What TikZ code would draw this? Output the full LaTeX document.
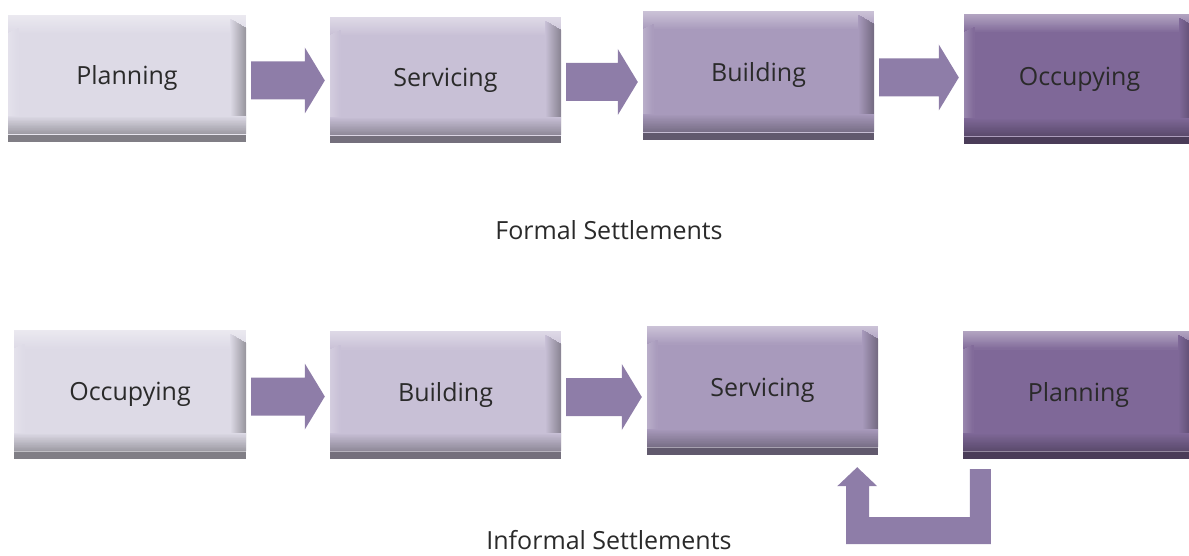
\documentclass[tikz,border=0pt]{standalone}
\usepackage{fontspec}
\setmainfont{Open Sans}
\usetikzlibrary{calc}
\definecolor{c1}{HTML}{DDDAE6}
\definecolor{c2}{HTML}{C8C0D6}
\definecolor{c3}{HTML}{A89ABC}
\definecolor{c4}{HTML}{7F6898}
\definecolor{arrowc}{HTML}{8E7DA8}
\definecolor{txt}{HTML}{2A2A2A}
\tikzset{
  bevel/.style={rectangle, inner sep=0pt, fill=#1, text=txt,
    font=\fontsize{25}{29}\selectfont,
    path picture={
      \coordinate (nw) at (path picture bounding box.north west);
      \coordinate (ne) at (path picture bounding box.north east);
      \coordinate (sw) at (path picture bounding box.south west);
      \coordinate (se) at (path picture bounding box.south east);
      % top light band
      \foreach \i [evaluate=\i as \pct using int(60+2.2*\i)] in {0,...,17}
        \fill[#1!\pct!white] ([yshift=-\i pt]nw) rectangle ([yshift=-\i pt-1.5pt]ne);
      % left light band
      \foreach \i [evaluate=\i as \pct using int(80+2*\i)] in {0,...,9}
        \fill[#1!\pct!white] ([xshift=\i pt, yshift=-18pt+0.5*\i pt]nw) rectangle ([xshift=\i pt+1.5pt, yshift=24pt]sw);
      % right dark band
      \foreach \i [evaluate=\i as \pct using int(100-2*\i)] in {0,...,15}
        \fill[#1!\pct!black] ([xshift=-16pt+\i pt, yshift=-4pt-0.6*\i pt]ne) rectangle ([xshift=-14.5pt+\i pt, yshift=8pt]se);
      % bottom dark gradient
      \foreach \i [evaluate=\i as \pct using int(100-1.6*\i)] in {0,...,17}
        \fill[#1!\pct!black] ([yshift=26pt-\i pt]sw) rectangle ([yshift=24.5pt-\i pt]se);
      \fill[#1!58!black] ([yshift=7pt]sw) rectangle (se);
      \draw[white, opacity=.35, line width=0.8pt] ([yshift=7.4pt]sw) -- ([yshift=7.4pt]se);
    }},
  caption/.style={text=txt, font=\fontsize{25}{29}\selectfont, inner sep=0pt},
  arrowfill/.style={fill=arrowc}
}
\newcommand\blockarrow[2]{%
  \fill[arrowfill] let \p1=(#1.east), \p2=(#2.west) in
    (\x1+5pt,\y1-2pt+19pt) -- (\x2-25pt,\y1-2pt+19pt) -- (\x2-25pt,\y1-2pt+33pt)
    -- (\x2-5pt,\y1-2pt) -- (\x2-25pt,\y1-2pt-33pt) -- (\x2-25pt,\y1-2pt-19pt)
    -- (\x1+5pt,\y1-2pt-19pt) -- cycle;}
\begin{document}
\begin{tikzpicture}[x=1pt,y=-1pt]
\useasboundingbox (0,0) rectangle (1189,556);
% top row
\node[bevel=c1, minimum width=238pt, minimum height=127pt] (p1) at (127,78.5) {Planning};
\node[bevel=c2, minimum width=231pt, minimum height=126pt] (s1) at (445.5,80) {Servicing};
\node[bevel=c3, minimum width=231pt, minimum height=129pt] (b1) at (758.5,75.5) {Building};
\node[bevel=c4, minimum width=231pt, minimum height=130pt] (o1) at (1079.5,79) {Occupying};
\blockarrow{p1}{s1}
\blockarrow{s1}{b1}
\blockarrow{b1}{o1}
\node[caption] (formal) at (609,230) {Formal Settlements};
% bottom row
\node[bevel=c1, minimum width=232pt, minimum height=129pt] (o2) at (130,394.5) {Occupying};
\node[bevel=c2, minimum width=231pt, minimum height=128pt] (b2) at (445.5,395) {Building};
\node[bevel=c3, minimum width=231pt, minimum height=129pt] (s2) at (762.5,390.5) {Servicing};
\node[bevel=c4, minimum width=231pt, minimum height=128pt] (p2) at (1078.5,395) {Planning};
\blockarrow{o2}{b2}
\blockarrow{b2}{s2}
\fill[arrowfill] let \p1=(s2.south east), \p2=(p2.south west) in
  (\x2+7pt,\y2-10pt) -- (\x2+28pt,\y2-10pt) -- (\x2+28pt,\y2-85pt)
  -- (\x1-32pt,\y2-85pt) -- (\x1-32pt,\y1-31pt) -- (\x1-41pt,\y1-31pt)
  -- (\x1-21pt,\y1-12pt) -- (\x1-1pt,\y1-31pt) -- (\x1-9pt,\y1-31pt)
  -- (\x1-9pt,\y2-58pt) -- (\x2+7pt,\y2-58pt) -- cycle;
\node[caption] (informal) at (609,540) {Informal Settlements};
\end{tikzpicture}
\end{document}
